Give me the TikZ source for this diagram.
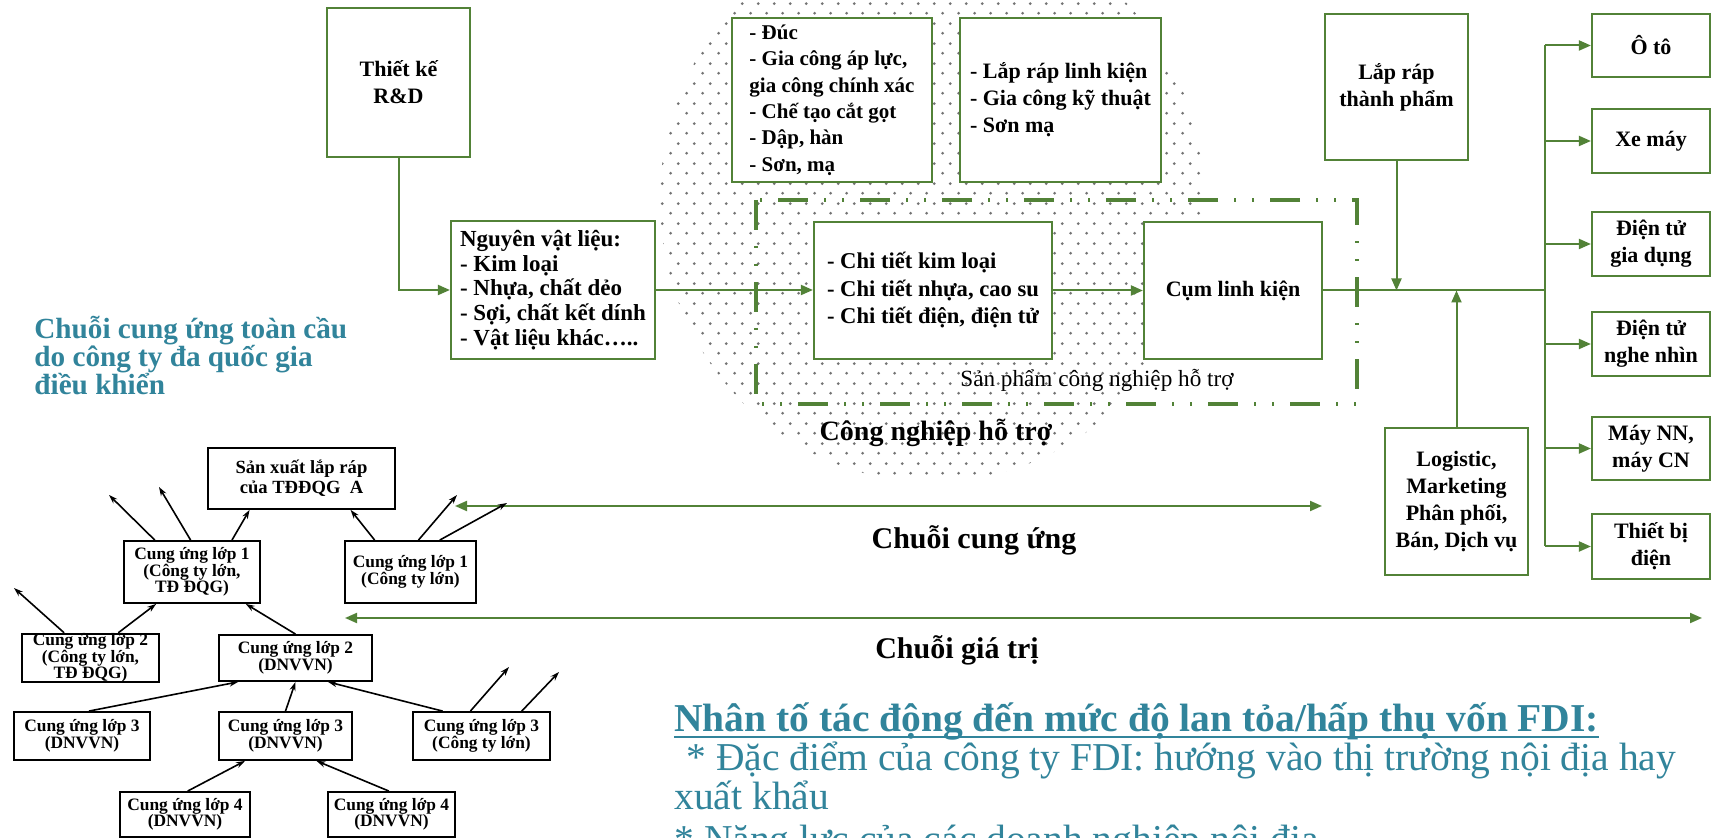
\documentclass[tikz,border=0pt]{standalone}
\usepackage{fontspec}
\setmainfont{Liberation Serif}
\usetikzlibrary{calc,arrows.meta,patterns.meta}
\definecolor{grn}{RGB}{82,130,55}
\definecolor{tealc}{RGB}{49,132,155}
\tikzdeclarepattern{
  name=stip,
  type=uncolored,
  bottom left={(0pt,0pt)},
  top right={(7.75pt,10pt)},
  tile size={(7.75pt,10pt)},
  code={
    \fill (1.9pt,2.5pt) circle (0.78pt);
    \fill (5.8pt,7.5pt) circle (0.78pt);
  }
}
\begin{document}
\begin{tikzpicture}[x=0.5pt,y=-0.5pt,
  gbox/.style={draw=grn, line width=1.1pt, fill=white, align=center, inner sep=1pt,
    font=\bfseries\fontsize{11}{13.5}\selectfont},
  lbox/.style={gbox, align=left},
  tbox/.style={draw=black, line width=0.9pt, fill=white, align=center, inner sep=0pt,
    font=\bfseries\fontsize{8.7}{8.2}\selectfont},
  garr/.style={draw=grn, line width=1pt, -{Triangle[length=6pt,width=5pt]}},
  garrb/.style={draw=grn, line width=1pt, {Triangle[length=6pt,width=5pt]}-{Triangle[length=6pt,width=5pt]}},
  gline/.style={draw=grn, line width=1pt},
  tarr/.style={draw=black, line width=0.8pt, -{Stealth[length=4.5pt,width=3pt]}},
  lbl/.style={font=\bfseries\fontsize{15}{17}\selectfont},
  blue/.style={anchor=base west, inner sep=0pt, text=tealc, font=\fontsize{19.75}{20}\selectfont}
]
\useasboundingbox (0,0) rectangle (1714,838);
\fill[white] (0,0) rectangle (1714,838);

% stippled area
\fill[pattern=stip, pattern color=black!55] (932,200) ellipse [x radius=136pt, y radius=141pt];

% dash-dot-dot frame
\draw[grn, line width=2pt, dash pattern=on 15pt off 8pt on 1pt off 8pt on 1pt off 8pt] (756,200) rectangle (1357,404);

% top diagram boxes
\node[gbox, minimum width=71.5pt, minimum height=74.5pt] (tk) at (398.5,82.5) {Thiết kế\\R\&D};
\node[lbox, font=\bfseries\fontsize{11.5}{12.3}\selectfont, minimum width=102pt, minimum height=69pt] (nvl) at (553,290) {Nguyên vật liệu:\\- Kim loại\\- Nhựa, chất dẻo\\- Sợi, chất kết dính\\- Vật liệu khác…..};
\node[lbox, font=\bfseries\fontsize{10.5}{13.2}\selectfont, minimum width=100pt, minimum height=82pt] (duc) at (832,100) {- Đúc\\- Gia công áp lực,\\gia công chính xác\\- Chế tạo cắt gọt\\- Dập, hàn\\- Sơn, mạ};
\node[lbox, minimum width=100.5pt, minimum height=82pt] (lrlk) at (1060.5,100) {- Lắp ráp linh kiện\\- Gia công kỹ thuật\\- Sơn mạ};
\node[lbox, font=\bfseries\fontsize{11.3}{13.75}\selectfont, minimum width=119pt, minimum height=68.5pt] (ct) at (933,290.5) {- Chi tiết kim loại\\- Chi tiết nhựa, cao su\\- Chi tiết điện, điện tử};
\node[gbox, minimum width=89pt, minimum height=68.5pt] (cum) at (1233,290.5) {Cụm linh kiện};
\node[gbox, minimum width=71.5pt, minimum height=73pt] (lrtp) at (1396.5,87) {Lắp ráp\\thành phẩm};
\node[gbox, minimum width=71.5pt, minimum height=73.5pt] (log) at (1456.5,501.5) {Logistic,\\Marketing\\Phân phối,\\Bán, Dịch vụ};

\node[gbox, minimum width=59pt, minimum height=31.5pt] (oto) at (1651,45.5) {Ô tô};
\node[gbox, minimum width=59pt, minimum height=32pt] (xm) at (1651,141) {Xe máy};
\node[gbox, minimum width=59pt, minimum height=32pt] (dtgd) at (1651,244) {Điện tử\\gia dụng};
\node[gbox, minimum width=59pt, minimum height=32pt] (dtnn) at (1651,344) {Điện tử\\nghe nhìn};
\node[gbox, minimum width=59pt, minimum height=31.5pt] (may) at (1651,448.5) {Máy NN,\\máy CN};
\node[gbox, minimum width=59pt, minimum height=32.5pt] (tbd) at (1651,546.5) {Thiết bị\\điện};

% connectors
\coordinate (J) at (1545,290.5);
\coordinate (Jt) at (1545,45.5);
\coordinate (Jb) at (1545,546.5);
\draw[garr] (tk.south) |- (nvl.west);
\draw[garr] (nvl.east) -- (nvl.east -| ct.west);
\draw[garr] (ct.east) -- (cum.west);
\draw[gline] (cum.east) -- (J);
\draw[gline] (Jt) -- (Jb);
\foreach \n in {oto,xm,dtgd,dtnn,may,tbd} \draw[garr] (\n.west -| J) -- (\n.west);
\draw[garr] (lrtp.south) -- (lrtp.south |- J);
\draw[garr] (log.north) -- (log.north |- J);

% labels
\node[font=\fontsize{11.6}{13}\selectfont] (spl) at (1097,380) {Sản phẩm công nghiệp hỗ trợ};
\node[font=\bfseries\fontsize{14}{16}\selectfont] (cnl) at (936,433) {Công nghiệp hỗ trợ};

% supply / value chain arrows
\coordinate (scL) at (455,506);
\coordinate (scR) at (1322,506);
\draw[garrb] (scL) -- (scR);
\node[lbl] (sclab) at (974,540) {Chuỗi cung ứng};
\coordinate (vcL) at (345,618);
\coordinate (vcR) at (1702,618);
\draw[garrb] (vcL) -- (vcR);
\node[lbl] (vclab) at (957,650) {Chuỗi giá trị};

% teal title
\node[anchor=north west, inner sep=0pt, align=left, text=tealc, font=\bfseries\fontsize{14.6}{14}\selectfont] (gsc) at (34,316) {Chuỗi cung ứng toàn cầu\\do công ty đa quốc gia\\điều khiển};

% tree
\node[tbox, font=\bfseries\fontsize{9.3}{10}\selectfont, minimum width=93.5pt, minimum height=30.5pt] (sx) at (301.5,478.5) {Sản xuất lắp ráp\\của TĐĐQG~~A};
\node[tbox, minimum width=68pt, minimum height=31pt] (c1l) at (192,572) {Cung ứng lớp 1\\(Công ty lớn,\\TĐ ĐQG)};
\node[tbox, minimum width=65.5pt, minimum height=31pt] (c1r) at (410.5,572) {Cung ứng lớp 1\\(Công ty lớn)};
\node[tbox, minimum width=68.5pt, minimum height=23pt] (c2l) at (90.5,658) {Cung ứng lớp 2\\(Công ty lớn,\\TĐ ĐQG)};
\node[tbox, minimum width=76.5pt, minimum height=23pt] (c2m) at (295.5,658) {Cung ứng lớp 2\\(DNVVN)};
\node[tbox, minimum width=68pt, minimum height=24pt] (c3l) at (82,736) {Cung ứng lớp 3\\(DNVVN)};
\node[tbox, minimum width=66.5pt, minimum height=24pt] (c3m) at (285.5,736) {Cung ứng lớp 3\\(DNVVN)};
\node[tbox, minimum width=68.5pt, minimum height=24pt] (c3r) at (481.5,736) {Cung ứng lớp 3\\(Công ty lớn)};
\node[tbox, minimum width=65pt, minimum height=22.5pt] (c4l) at (185,814.5) {Cung ứng lớp 4\\(DNVVN)};
\node[tbox, minimum width=63.5pt, minimum height=22.5pt] (c4r) at (391.5,814.5) {Cung ứng lớp 4\\(DNVVN)};

\coordinate (f1) at (159,487);
\coordinate (f2) at (109,495);
\coordinate (f3) at (457,495);
\coordinate (f4) at (507,503);
\coordinate (f5) at (14,588);
\coordinate (f6) at (509,667);
\coordinate (f7) at (559,672);

\draw[tarr] ($(c1l.north west)!0.79!(c1l.north east)$) -- ($(sx.south west)!0.225!(sx.south east)$);
\draw[tarr] ($(c1l.north west)!0.49!(c1l.north east)$) -- (f1);
\draw[tarr] ($(c1l.north west)!0.23!(c1l.north east)$) -- (f2);
\draw[tarr] ($(c1r.north west)!0.23!(c1r.north east)$) -- ($(sx.south west)!0.76!(sx.south east)$);
\draw[tarr] ($(c1r.north west)!0.56!(c1r.north east)$) -- (f3);
\draw[tarr] ($(c1r.north west)!0.72!(c1r.north east)$) -- (f4);
\draw[tarr] ($(c2l.north west)!0.70!(c2l.north east)$) -- ($(c1l.south west)!0.24!(c1l.south east)$);
\draw[tarr] ($(c2l.north west)!0.31!(c2l.north east)$) -- (f5);
\draw[tarr] ($(c2m.north west)!0.5!(c2m.north east)$) -- ($(c1l.south west)!0.89!(c1l.south east)$);
\draw[tarr] ($(c3l.north west)!0.55!(c3l.north east)$) -- ($(c2m.south west)!0.13!(c2m.south east)$);
\draw[tarr] ($(c3m.north west)!0.5!(c3m.north east)$) -- ($(c2m.south west)!0.5!(c2m.south east)$);
\draw[tarr] ($(c3r.north west)!0.22!(c3r.north east)$) -- ($(c2m.south west)!0.71!(c2m.south east)$);
\draw[tarr] ($(c3r.north west)!0.42!(c3r.north east)$) -- (f6);
\draw[tarr] ($(c3r.north west)!0.79!(c3r.north east)$) -- (f7);
\draw[tarr] ($(c4l.north west)!0.52!(c4l.north east)$) -- ($(c3m.south west)!0.2!(c3m.south east)$);
\draw[tarr] ($(c4r.north west)!0.48!(c4r.north east)$) -- ($(c3m.south west)!0.73!(c3m.south east)$);

% FDI factors text
\node[blue, font=\bfseries\fontsize{19.75}{20}\selectfont] (fh) at (674,732) {Nhân tố tác động đến mức độ lan tỏa/hấp thụ vốn FDI:};
\draw[tealc, line width=1.3pt] ([yshift=-2.5pt]fh.base west) -- ([yshift=-2.5pt]fh.base east);
\node[blue] (f1t) at (686,771) {* Đặc điểm của công ty FDI: hướng vào thị trường nội địa hay};
\node[blue] (f2t) at (674,810) {xuất khẩu};
\node[blue] (f3t) at (674,853) {* Năng lực của các doanh nghiệp nội địa};
\end{tikzpicture}
\end{document}
